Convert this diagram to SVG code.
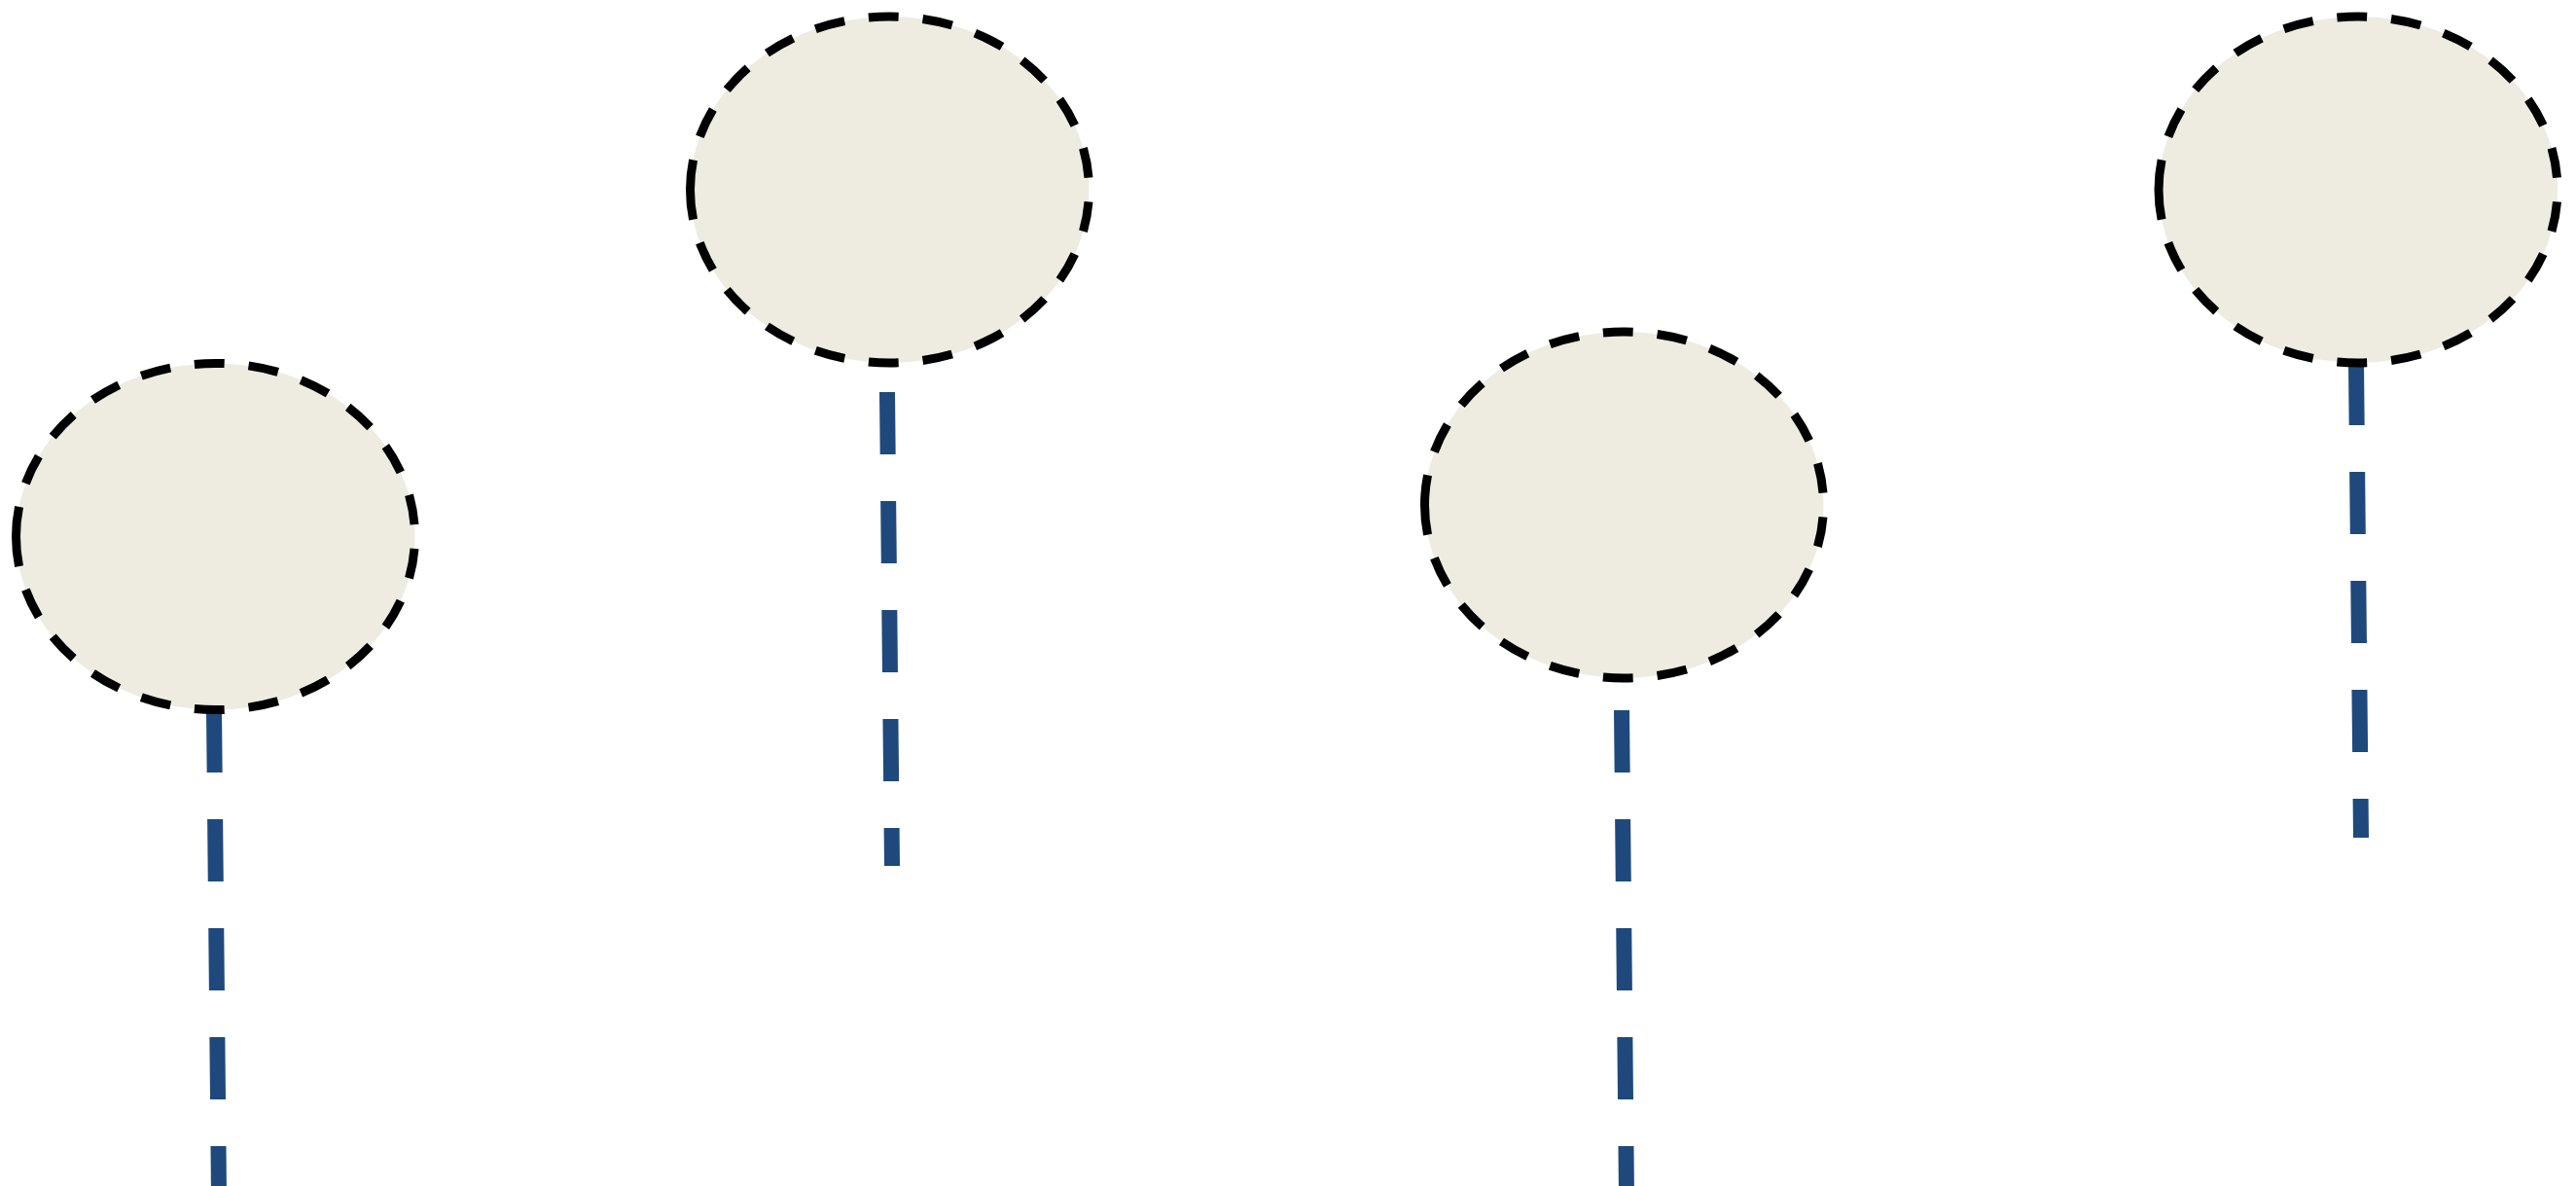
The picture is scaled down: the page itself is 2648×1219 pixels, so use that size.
<svg xmlns="http://www.w3.org/2000/svg" width="2648" height="1219" viewBox="0 0 2648 1219">
  <style>
    .node { fill: #EEECE1; stroke: #000000; stroke-width: 9; stroke-dasharray: 31 25; }
    .conn { fill: none; stroke: #1F497D; stroke-width: 16; stroke-dasharray: 64 48; }
  </style>
  <rect x="0" y="0" width="2648" height="1219" fill="#FFFFFF"/>
  <g id="connectors">
    <line class="conn" x1="220" y1="730" x2="225" y2="1230"/>
    <line class="conn" x1="912" y1="403" x2="917" y2="890"/>
    <line class="conn" x1="1667" y1="730" x2="1672" y2="1230"/>
    <line class="conn" x1="2422" y1="373" x2="2427" y2="861"/>
  </g>
  <g id="node1">
    <path class="node" pathLength="1207" d="M16.5,551.5 A205,178 0 1 1 426.5,551.5 A205,178 0 1 1 16.5,551.5 Z"/>
  </g>
  <g id="node2">
    <path class="node" pathLength="1207" d="M709.5,195 A205,178 0 1 1 1119.5,195 A205,178 0 1 1 709.5,195 Z"/>
  </g>
  <g id="node3">
    <path class="node" pathLength="1207" d="M1464.5,519 A205,178 0 1 1 1874.5,519 A205,178 0 1 1 1464.5,519 Z"/>
  </g>
  <g id="node4">
    <path class="node" pathLength="1207" d="M2219,195 A205,178 0 1 1 2629,195 A205,178 0 1 1 2219,195 Z"/>
  </g>
</svg>
